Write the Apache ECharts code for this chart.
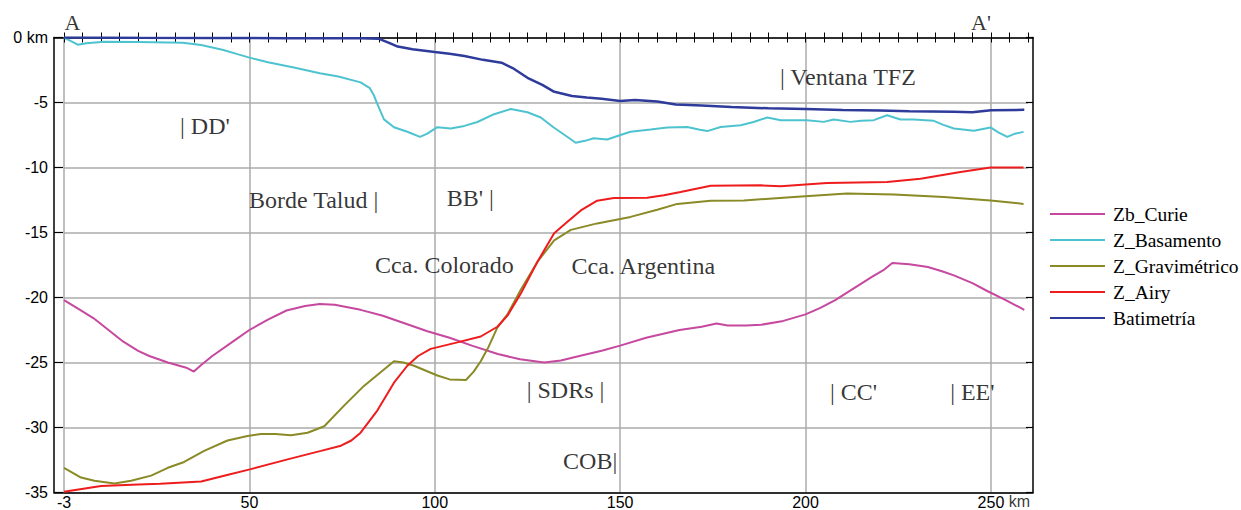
<!DOCTYPE html>
<html><head><meta charset="utf-8">
<script src="https://cdn.jsdelivr.net/npm/echarts@6/dist/echarts.min.js"></script>
<style>html,body{margin:0;padding:0;background:#fff}#c{width:1241px;height:510px}</style>
</head><body><div id="c"></div>
<script>
// ---------- data (km along profile, depth km) ----------
const seriesNames = ['Zb_Curie', 'Z_Basamento', 'Z_Gravimétrico', 'Z_Airy', 'Batimetría'];

const curieKm = [0,4,8,12,16,20,23,28,33,35,37,40,46,50,55,60,65,69,73,80,86,92,98,104,110,117,123,129.5,134,139,145,150,157,166,172,176,179,184,188,194,200,204,208,213,218,221,223.4,228,233,237,240,245,249,254,259];
const curieZ  = [-20.2,-20.9,-21.6,-22.5,-23.4,-24.1,-24.5,-25.0,-25.4,-25.7,-25.2,-24.5,-23.3,-22.5,-21.7,-21.0,-20.65,-20.5,-20.55,-20.95,-21.4,-22.0,-22.6,-23.1,-23.7,-24.35,-24.75,-25.0,-24.85,-24.5,-24.1,-23.7,-23.1,-22.5,-22.25,-22.0,-22.15,-22.15,-22.1,-21.8,-21.3,-20.8,-20.2,-19.3,-18.4,-17.9,-17.35,-17.45,-17.65,-18.0,-18.3,-18.9,-19.5,-20.2,-20.95];

const basKm = [0,2,3.7,6,10.8,20,32,37,43,47,50,55,62,69,74,80,82.5,83.5,84.5,86.3,89,92.6,96,98,100.7,104.3,108,111.5,116,120.5,125,128.6,132,135.8,138,140.5,142.9,146.5,150.1,152.8,158.2,162.7,168.1,171.5,173.5,177.1,182.5,186,189.7,193.3,200.4,204.9,207.6,212.1,215,218.4,222,225.6,229.2,234.6,237,240,245.4,249.9,252,254.4,256.5,258.8];
const basZ  = [0,-0.3,-0.55,-0.45,-0.32,-0.35,-0.4,-0.58,-0.96,-1.3,-1.55,-1.9,-2.3,-2.75,-3.0,-3.45,-3.9,-4.4,-5.1,-6.3,-6.9,-7.25,-7.65,-7.4,-6.9,-7.0,-6.8,-6.5,-5.9,-5.5,-5.75,-6.15,-6.9,-7.65,-8.1,-7.95,-7.75,-7.85,-7.5,-7.25,-7.08,-6.92,-6.88,-7.1,-7.2,-6.88,-6.75,-6.5,-6.15,-6.36,-6.36,-6.49,-6.31,-6.49,-6.4,-6.36,-5.98,-6.31,-6.31,-6.41,-6.7,-7.0,-7.18,-6.92,-7.3,-7.65,-7.4,-7.26];

const gravKm = [0,4.6,8.2,13.6,18.1,23.5,28,32.4,37.8,44.1,49.5,53.1,57,61.2,65.7,70.2,75.6,80.9,85.4,89,91.5,94.4,100.7,104,108.4,110.5,112.4,114.5,116.9,119.6,123.2,127.7,132.2,136.7,143.8,152.8,160,165.4,174.4,183.4,196.9,211.2,223.8,237.3,249.9,258.8];
const gravZ  = [-33.1,-33.85,-34.1,-34.3,-34.1,-33.7,-33.1,-32.65,-31.8,-31.0,-30.65,-30.5,-30.5,-30.6,-30.4,-29.9,-28.3,-26.8,-25.75,-24.9,-25.0,-25.25,-26.0,-26.3,-26.35,-25.7,-24.9,-23.8,-22.3,-21.3,-19.4,-17.25,-15.6,-14.8,-14.3,-13.8,-13.25,-12.8,-12.55,-12.53,-12.27,-12.0,-12.07,-12.27,-12.53,-12.8];

const airyKm = [0,10,20,26,37,44,50.4,60.3,69.3,74.7,77.5,80,84.5,89,92.6,95.5,98.9,106.1,112.4,116.9,119.6,123.2,127.7,132.2,135.7,139.4,143.8,148.3,157.3,161.8,166.3,174.4,187.9,193.3,205.8,222,231,241.8,249.9,258.8];
const airyZ  = [-34.95,-34.5,-34.38,-34.32,-34.15,-33.65,-33.2,-32.45,-31.8,-31.4,-31.0,-30.4,-28.7,-26.55,-25.25,-24.5,-23.95,-23.45,-23.0,-22.25,-21.4,-19.7,-17.25,-15.06,-14.2,-13.3,-12.55,-12.35,-12.32,-12.14,-11.89,-11.4,-11.37,-11.45,-11.19,-11.11,-10.86,-10.35,-10.0,-10.0];

const batKm = [0,20,40,60,80,85,88,90,94,100,104,108,113,118,121,125,129,132,137,141,145,150,154,160,165,172,180,190,200,210,220,228,240,245,250,259];
const batZ  = [0,-0.02,-0.03,-0.05,-0.05,-0.1,-0.45,-0.7,-0.9,-1.12,-1.25,-1.43,-1.72,-1.94,-2.35,-3.1,-3.65,-4.15,-4.5,-4.62,-4.72,-4.88,-4.8,-4.93,-5.15,-5.23,-5.35,-5.45,-5.5,-5.58,-5.62,-5.67,-5.72,-5.75,-5.6,-5.56];

// tick labels
const xTickValues = [0, 50, 100, 150, 200, 250];
const xTickLabels = ['-3', '50', '100', '150', '200', '250'];
const yTopLabel = '0 km';

// annotations (text, km, depth)
const annText = ['A', "A'", "| DD'", 'Borde Talud |', "BB' |", '| Ventana TFZ', 'Cca. Colorado', 'Cca. Argentina', '| SDRs |', "| CC'", "| EE'", 'COB|', 'km'];
const annKm   = [2.3, 247.3, 31.3, 49.9, 103.2, 193.1, 83.9, 136.9, 124.8, 206.6, 239.0, 134.6, 254.8];
const annZ    = [1.15, 1.15, -6.77, -12.5, -12.35, -3.04, -17.5, -17.6, -27.1, -27.3, -27.3, -32.6, -35.7];
const annKind = ['big', 'big', 'ann', 'ann', 'ann', 'ann', 'ann', 'ann', 'ann', 'ann', 'ann', 'ann', 'axis'];

// ---------- build ----------
const zip = (a, b) => a.map((v, i) => [v, b[i]]);
const colors = ['#C6489F', '#4EC3D0', '#8A8A26', '#EE1C1C', '#2E3B9A'];
const lineData = [zip(curieKm, curieZ), zip(basKm, basZ), zip(gravKm, gravZ), zip(airyKm, airyZ), zip(batKm, batZ)];
const widths = [2, 2, 2, 2, 2.5];

const SERIF = "'Liberation Serif','Times New Roman',serif";
const SANS = "'Liberation Sans',Arial,sans-serif";
const GRID_T = 37.5, GRID_B = 17.5;
const INK = '#000';

const annStyles = {
  big: { fontFamily: SERIF, fontSize: 22, align: 'center' },
  ann: { fontFamily: SERIF, fontSize: 24, align: 'left' },
  axis: { fontFamily: SANS, fontSize: 16, align: 'left' }
};

const series = seriesNames.map((n, i) => ({
  name: n, type: 'line', xAxisIndex: 0, yAxisIndex: 0,
  data: lineData[i], showSymbol: false, symbol: 'none',
  lineStyle: { color: colors[i], width: widths[i] },
  itemStyle: { color: colors[i] },
  z: 3, animation: false
}));

series.push({
  type: 'scatter', xAxisIndex: 0, yAxisIndex: 0, silent: true, clip: false,
  symbolSize: 0, animation: false, z: 5,
  data: annText.map((t, i) => ({
    value: [annKm[i], annZ[i]],
    label: Object.assign({ show: true, formatter: t, position: [0, 0], verticalAlign: 'middle', color: INK }, annStyles[annKind[i]])
  }))
});

const gridColor = '#ABABAB';
const option = {
  animation: false,
  backgroundColor: '#fff',
  grid: [
    { left: 64, right: 213, top: GRID_T, bottom: GRID_B, containLabel: false, outerBoundsMode: 'none' },
    { left: 54, right: 208, top: GRID_T, bottom: GRID_B, containLabel: false, outerBoundsMode: 'none' }
  ],
  xAxis: [
    { type: 'value', gridIndex: 0, position: 'bottom', min: 0, max: 260, interval: 50, z: 0,
      axisLine: { show: false },
      axisTick: { show: true, inside: true, length: 5, lineStyle: { color: INK, width: 1 } },
      minorTick: { show: true, splitNumber: 10, length: 5, lineStyle: { color: INK, width: 1 } },
      splitLine: { show: true, showMaxLine: false, lineStyle: { color: gridColor, width: 1.5 } },
      axisLabel: { show: true, margin: 2, fontFamily: SANS, fontSize: 16, color: INK,
        formatter: v => { const k = xTickValues.indexOf(v); return k >= 0 ? xTickLabels[k] : ''; } } },
    { type: 'value', gridIndex: 0, position: 'top', min: 0, max: 260, interval: 50, z: 0,
      axisLine: { show: false },
      axisTick: { show: true, inside: true, length: 5, lineStyle: { color: INK, width: 1 } },
      minorTick: { show: true, splitNumber: 10, length: 5, lineStyle: { color: INK, width: 1 } },
      splitLine: { show: false }, axisLabel: { show: false } },
    { type: 'value', gridIndex: 1, position: 'bottom', min: 0, max: 1, z: 1,
      axisLine: { show: true, onZero: false, lineStyle: { color: INK, width: 1.5 } },
      axisTick: { show: false }, axisLabel: { show: false }, splitLine: { show: false } },
    { type: 'value', gridIndex: 1, position: 'top', min: 0, max: 1, z: 1,
      axisLine: { show: true, onZero: false, lineStyle: { color: INK, width: 1.5 } },
      axisTick: { show: false }, axisLabel: { show: false }, splitLine: { show: false } }
  ],
  yAxis: [
    { type: 'value', gridIndex: 0, min: -35, max: 0, interval: 5, z: 0,
      axisLine: { show: false }, axisTick: { show: false }, axisLabel: { show: false },
      splitLine: { show: true, lineStyle: { color: gridColor, width: 1.5 } } },
    { type: 'value', gridIndex: 1, position: 'left', min: -35, max: 0, interval: 5, z: 1,
      axisLine: { show: true, onZero: false, lineStyle: { color: INK, width: 1.5 } },
      axisTick: { show: true, inside: true, length: 9, lineStyle: { color: INK, width: 1.2 } },
      splitLine: { show: false },
      axisLabel: { show: true, margin: 6, fontFamily: SANS, fontSize: 16, color: INK,
        formatter: v => (v === 0 ? yTopLabel : String(v)) } },
    { type: 'value', gridIndex: 1, position: 'right', min: -35, max: 0, interval: 5, z: 1,
      axisLine: { show: true, onZero: false, lineStyle: { color: INK, width: 1.5 } },
      axisTick: { show: true, inside: true, length: 7, lineStyle: { color: INK, width: 1.2 } },
      splitLine: { show: false }, axisLabel: { show: false } }
  ],
  legend: {
    data: seriesNames, orient: 'vertical', left: 1045, top: 199,
    icon: 'rect', itemWidth: 55, itemHeight: 2.2, itemGap: 6,
    textStyle: { fontFamily: SERIF, fontSize: 19.5, color: INK, lineHeight: 20, padding: [0, 0, 0, 3] }
  },
  series: series
};

const chart = echarts.init(document.getElementById('c'), null, { renderer: 'svg', width: 1241, height: 510 });
chart.setOption(option);
</script>
</body></html>
